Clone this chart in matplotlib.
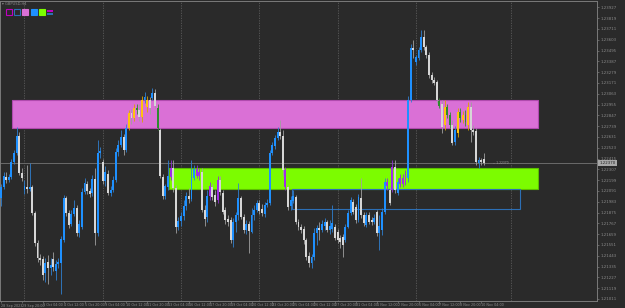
import matplotlib
matplotlib.use("Agg")
import matplotlib.pyplot as plt
from matplotlib.patches import Rectangle
from matplotlib.transforms import blended_transform_factory
import numpy as np

symbol = "GBPUSD,H4"

open_ = [1.2202,1.2213,1.2223,1.2220,1.2223,1.2238,1.2247,1.2264,1.2227,1.2210,
1.2213,1.2211,1.2213,1.2187,1.2157,1.2142,1.2141,1.2127,1.2138,1.2132,
1.2141,1.2129,1.2136,1.2137,1.2160,1.2202,1.2187,1.2176,1.2186,1.2192,
1.2167,1.2173,1.2208,1.2216,1.2209,1.2207,1.2221,1.2167,1.2247,1.2238,
1.2219,1.2226,1.2207,1.2210,1.2220,1.2248,1.2255,1.2263,1.2250,1.2272,
1.2287,1.2282,1.2292,1.2290,1.2283,1.2300,1.2293,1.2300,1.2302,1.2307,
1.2292,1.2270,1.2223,1.2204,1.2213,1.2223,1.2232,1.2212,1.2173,1.2179,
1.2184,1.2194,1.2204,1.2201,1.2222,1.2231,1.2224,1.2228,1.2190,1.2183,
1.2204,1.2213,1.2205,1.2200,1.2220,1.2207,1.2190,1.2181,1.2180,1.2160,
1.2178,1.2185,1.2202,1.2183,1.2170,1.2176,1.2168,1.2185,1.2190,1.2197,
1.2191,1.2186,1.2195,1.2197,1.2247,1.2254,1.2262,1.2268,1.2264,1.2230,
1.2213,1.2194,1.2199,1.2203,1.2178,1.2173,1.2171,1.2160,1.2144,1.2137,
1.2143,1.2167,1.2172,1.2170,1.2174,1.2178,1.2170,1.2171,1.2173,1.2168,
1.2162,1.2163,1.2160,1.2173,1.2187,1.2198,1.2193,1.2180,1.2202,1.2185,
1.2175,1.2185,1.2180,1.2178,1.2188,1.2167,1.2170,1.2188,1.2218,1.2210,
1.2210,1.2233,1.2207,1.2216,1.2222,1.2217,1.2222,1.2300,1.2352,1.2338,
1.2342,1.2350,1.2363,1.2353,1.2345,1.2325,1.2320,1.2318,1.2299,1.2296,
1.2275,1.2293,1.2285,1.2275,1.2258,1.2267,1.2288,1.2280,1.2285,1.2275,
1.2293,1.2270,1.2269,1.2237,1.2240,1.2241]

close = [1.2213,1.2224,1.2220,1.2223,1.2238,1.2247,1.2264,1.2227,1.2222,1.2214,
1.2211,1.2213,1.2187,1.2157,1.2142,1.2140,1.2125,1.2137,1.2132,1.2135,
1.2133,1.2136,1.2138,1.2161,1.2202,1.2187,1.2175,1.2186,1.2192,1.2167,
1.2176,1.2208,1.2217,1.2209,1.2206,1.2221,1.2167,1.2247,1.2249,1.2219,
1.2228,1.2207,1.2210,1.2220,1.2248,1.2255,1.2263,1.2250,1.2272,1.2287,
1.2282,1.2292,1.2290,1.2283,1.2300,1.2303,1.2300,1.2292,1.2307,1.2294,
1.2272,1.2224,1.2204,1.2214,1.2224,1.2232,1.2212,1.2173,1.2179,1.2184,
1.2194,1.2204,1.2201,1.2222,1.2231,1.2224,1.2228,1.2190,1.2181,1.2204,
1.2214,1.2203,1.2198,1.2220,1.2208,1.2188,1.2180,1.2178,1.2160,1.2178,
1.2185,1.2202,1.2183,1.2170,1.2176,1.2169,1.2185,1.2190,1.2197,1.2189,
1.2187,1.2195,1.2197,1.2247,1.2255,1.2262,1.2268,1.2264,1.2230,1.2213,
1.2193,1.2200,1.2204,1.2178,1.2173,1.2170,1.2160,1.2143,1.2137,1.2143,
1.2167,1.2172,1.2170,1.2176,1.2178,1.2170,1.2174,1.2177,1.2162,1.2160,
1.2158,1.2155,1.2173,1.2187,1.2200,1.2188,1.2180,1.2203,1.2185,1.2177,
1.2185,1.2178,1.2178,1.2182,1.2167,1.2174,1.2188,1.2218,1.2214,1.2197,
1.2233,1.2210,1.2218,1.2222,1.2216,1.2225,1.2300,1.2352,1.2350,1.2343,
1.2350,1.2363,1.2353,1.2345,1.2325,1.2320,1.2317,1.2300,1.2294,1.2273,
1.2293,1.2285,1.2275,1.2257,1.2270,1.2288,1.2282,1.2285,1.2278,1.2293,
1.2270,1.2268,1.2238,1.2240,1.2238,1.2237]

high = [1.2216,1.2228,1.2228,1.2226,1.2241,1.2250,1.2273,1.2268,1.2232,1.2220,
1.2235,1.2237,1.2215,1.2189,1.2160,1.2146,1.2144,1.2142,1.2145,1.2142,
1.2148,1.2140,1.2142,1.2164,1.2205,1.2204,1.2190,1.2190,1.2200,1.2195,
1.2180,1.2212,1.2222,1.2219,1.2212,1.2225,1.2232,1.2260,1.2253,1.2241,
1.2234,1.2230,1.2214,1.2224,1.2252,1.2260,1.2270,1.2266,1.2276,1.2290,
1.2291,1.2296,1.2296,1.2296,1.2304,1.2308,1.2304,1.2303,1.2312,1.2311,
1.2296,1.2272,1.2226,1.2216,1.2240,1.2240,1.2240,1.2215,1.2183,1.2188,
1.2200,1.2208,1.2212,1.2240,1.2235,1.2235,1.2232,1.2232,1.2195,1.2210,
1.2218,1.2216,1.2210,1.2224,1.2224,1.2210,1.2193,1.2185,1.2183,1.2182,
1.2188,1.2217,1.2204,1.2186,1.2180,1.2179,1.2192,1.2195,1.2200,1.2200,
1.2196,1.2198,1.2201,1.2250,1.2258,1.2265,1.2273,1.2280,1.2270,1.2233,
1.2215,1.2204,1.2210,1.2205,1.2181,1.2176,1.2174,1.2162,1.2148,1.2146,
1.2172,1.2175,1.2178,1.2180,1.2182,1.2180,1.2180,1.2195,1.2176,1.2171,
1.2165,1.2166,1.2176,1.2190,1.2203,1.2201,1.2196,1.2206,1.2222,1.2188,
1.2188,1.2188,1.2183,1.2186,1.2190,1.2185,1.2192,1.2222,1.2222,1.2213,
1.2240,1.2240,1.2222,1.2226,1.2226,1.2230,1.2304,1.2356,1.2360,1.2345,
1.2353,1.2370,1.2370,1.2355,1.2348,1.2328,1.2323,1.2320,1.2302,1.2300,
1.2300,1.2296,1.2288,1.2280,1.2274,1.2292,1.2292,1.2289,1.2290,1.2298,
1.2298,1.2275,1.2272,1.2243,1.2242,1.2247]

low = [1.2194,1.2211,1.2217,1.2218,1.2221,1.2236,1.2245,1.2225,1.2219,1.2206,
1.2207,1.2209,1.2185,1.2154,1.2138,1.2135,1.2120,1.2118,1.2116,1.2125,
1.2129,1.2120,1.2132,1.2106,1.2158,1.2184,1.2172,1.2174,1.2184,1.2164,
1.2163,1.2171,1.2206,1.2206,1.2203,1.2204,1.2155,1.2164,1.2242,1.2216,
1.2214,1.2205,1.2204,1.2208,1.2218,1.2244,1.2253,1.2245,1.2248,1.2270,
1.2276,1.2279,1.2286,1.2279,1.2278,1.2297,1.2288,1.2286,1.2300,1.2292,
1.2270,1.2222,1.2201,1.2201,1.2210,1.2220,1.2208,1.2167,1.2170,1.2174,
1.2180,1.2190,1.2197,1.2199,1.2220,1.2222,1.2220,1.2188,1.2174,1.2178,
1.2200,1.2200,1.2194,1.2197,1.2205,1.2186,1.2176,1.2174,1.2157,1.2153,
1.2168,1.2180,1.2181,1.2167,1.2166,1.2147,1.2167,1.2180,1.2188,1.2186,
1.2184,1.2183,1.2193,1.2195,1.2245,1.2251,1.2260,1.2261,1.2224,1.2210,
1.2190,1.2190,1.2197,1.2176,1.2170,1.2167,1.2156,1.2140,1.2133,1.2132,
1.2140,1.2155,1.2160,1.2168,1.2170,1.2168,1.2166,1.2168,1.2160,1.2157,
1.2152,1.2143,1.2158,1.2172,1.2185,1.2186,1.2177,1.2178,1.2182,1.2174,
1.2173,1.2176,1.2175,1.2176,1.2164,1.2150,1.2165,1.2186,1.2210,1.2195,
1.2208,1.2207,1.2205,1.2213,1.2213,1.2215,1.2218,1.2298,1.2342,1.2335,
1.2340,1.2348,1.2350,1.2342,1.2322,1.2317,1.2315,1.2297,1.2292,1.2267,
1.2270,1.2282,1.2272,1.2255,1.2255,1.2263,1.2278,1.2277,1.2274,1.2270,
1.2258,1.2265,1.2235,1.2232,1.2235,1.2235]

# candle colour class: u bull, d bear, o bull in supply zone, g bear in supply zone, p in demand zone
candle_class = ("uuduuuuddu" "dudddddudu" "duuuudduud" "uuudduduud" "uduuuuuduo"
                "dogdouodud" "gdduupdduu" "uuduuppddu" "pddpdddddu" "uudduduuud"
                "duuuuuuddp" "duuddddddu" "uuduuduudd" "dduuuddudd" "udduduuupd"
                "pdupppuudu" "uuddddddgd" "oggduogogo" "dddudd")

time_labels = ["28 Sep 2023", "29 Sep 20:00", "3 Oct 04:00", "4 Oct 12:00", "5 Oct 20:00",
               "9 Oct 04:00", "10 Oct 12:00", "11 Oct 20:00", "13 Oct 04:00", "16 Oct 12:00",
               "17 Oct 20:00", "19 Oct 04:00", "20 Oct 12:00", "23 Oct 20:00", "25 Oct 04:00",
               "26 Oct 12:00", "27 Oct 20:00", "31 Oct 04:00", "1 Nov 12:00", "2 Nov 20:00",
               "6 Nov 04:00", "7 Nov 12:00", "8 Nov 20:00", "10 Nov 04:00"]
label_every = 8
week_grid_bars = [9, 39, 69, 99, 129, 159, 195.6]

price_ticks = [1.23927, 1.23819, 1.23711, 1.23603, 1.23495, 1.23387, 1.23279, 1.23171,
               1.23063, 1.22955, 1.22847, 1.22739, 1.22631, 1.22523, 1.22415, 1.22307,
               1.22199, 1.22091, 1.21983, 1.21875, 1.21767, 1.21659, 1.21551, 1.21443,
               1.21335, 1.21227, 1.21119, 1.21011]

# zones: (bar start, bar end, price low, price high)
supply_zone = (4.2, 205.8, 1.2272, 1.2300)
demand_zone = (64.4, 205.8, 1.2211, 1.2232)
range_box = (111.5, 198.9, 1.2191, 1.2211)

BG = "#2a2a2a"
TXT = "#8c8c8c"
body_col = {"u": "#1e90ff", "d": "#d6d6d6", "o": "#ffc20e", "g": "#2e8b2e", "p": "#a02ee6"}
wick_col = {"u": "#2f7fd0", "d": "#a0a0a0", "o": "#d9a400", "g": "#2e8b2e", "p": "#9030d0"}

W, H = 625, 308
fig = plt.figure(figsize=(W / 100, H / 100), dpi=100)
fig.patch.set_facecolor(BG)
ax = fig.add_axes([0, 7 / H, 597 / W, 300 / H])
ax.set_facecolor(BG)

n = len(close)
x = np.arange(n)
ax.set_xlim(-0.383, 228.4)
ax.set_ylim(1.2099, 1.2399)

# grid (week separators)
for gb in week_grid_bars:
    ax.axvline(gb, color="#5a5a5a", lw=0.6, ls=(0, (1.5, 1.5)), zorder=1)

# zones
sz = Rectangle((supply_zone[0], supply_zone[2]), supply_zone[1] - supply_zone[0],
               supply_zone[3] - supply_zone[2], facecolor="#da70d6", edgecolor="#b04aae",
               lw=0.8, zorder=2)
dz = Rectangle((demand_zone[0], demand_zone[2]), demand_zone[1] - demand_zone[0],
               demand_zone[3] - demand_zone[2], facecolor="#7cfc00", edgecolor="#5cbf00",
               lw=0.8, zorder=2)
rb = Rectangle((range_box[0], range_box[2]), range_box[1] - range_box[0],
               range_box[3] - range_box[2], facecolor="none", edgecolor="#2c6fb5",
               lw=0.8, zorder=2)
for p in (sz, dz, rb):
    ax.add_patch(p)

# current price line
last = close[-1]
ax.axhline(last, color="#6a6a6a", lw=0.7, zorder=2.5)

# candles
o = np.array(open_); c = np.array(close); h = np.array(high); l = np.array(low)
bcols = [body_col[k] for k in candle_class]
wcols = [wick_col[k] for k in candle_class]
ax.vlines(x, l, h, colors=wcols, lw=0.6, zorder=3)
bottoms = np.minimum(o, c)
heights = np.maximum(np.abs(c - o), 0.00008)
ax.bar(x, heights, bottom=bottoms, width=0.74, color=bcols, linewidth=0, zorder=4)

# axes styling
for s in ax.spines.values():
    s.set_color("#7a7a7a")
    s.set_linewidth(0.7)
ax.yaxis.tick_right()
ax.set_yticks(price_ticks)
ax.set_yticklabels([f"{v:.5f}" for v in price_ticks])
ax.tick_params(axis="y", length=1.5, width=0.5, color="#7a7a7a", labelsize=2.8,
               labelcolor=TXT, pad=1.2)
xt = [i * label_every for i in range(len(time_labels))]
ax.set_xticks(xt)
ax.set_xticklabels(time_labels)
ax.tick_params(axis="x", length=1.2, width=0.5, color="#7a7a7a", labelsize=2.4,
               labelcolor=TXT, pad=0.6)
for lab in ax.get_xticklabels():
    lab.set_ha("left")

# current price box
tr = blended_transform_factory(ax.transAxes, ax.transData)
ax.text(1.004, last, f"{last:.5f}", transform=tr, fontsize=2.8, color="#202020",
        va="center", ha="left",
        bbox=dict(boxstyle="square,pad=0.3", facecolor="#a8a8a8", edgecolor="none"),
        clip_on=False, zorder=6)
ax.text(188.5, last + 0.00003, f"-- {last:.5f}", fontsize=2.2, color="#9a9a9a",
        va="center", ha="left", zorder=6)

# header and legend swatches (figure pixel coordinates)
def fx(px):
    return px / W

def fy(py):
    return 1 - py / H

fig.text(fx(2), fy(4), "\u25be " + symbol, fontsize=2.6, color=TXT, va="center", ha="left")
sw = [("none", "#c000c0"), ("none", "#2c6fb5"), ("#da70d6", "#da70d6"),
      ("#1e90ff", "#1e90ff"), ("#7cfc00", "#7cfc00")]
for i, (fc, ec) in enumerate(sw):
    x0 = 6 + i * 8.2
    fig.add_artist(Rectangle((fx(x0), fy(15.3)), fx(6), 6 / H, facecolor=fc,
                             edgecolor=ec, lw=0.8, transform=fig.transFigure))
x0 = 6 + 5 * 8.2
fig.add_artist(Rectangle((fx(x0), fy(11.5)), fx(6), 2 / H, facecolor="#c000c0",
                         edgecolor="none", transform=fig.transFigure))
fig.add_artist(Rectangle((fx(x0), fy(15.3)), fx(6), 2 / H, facecolor="#2c6fb5",
                         edgecolor="none", transform=fig.transFigure))

fig.savefig("out.png", dpi=100, facecolor=BG)
